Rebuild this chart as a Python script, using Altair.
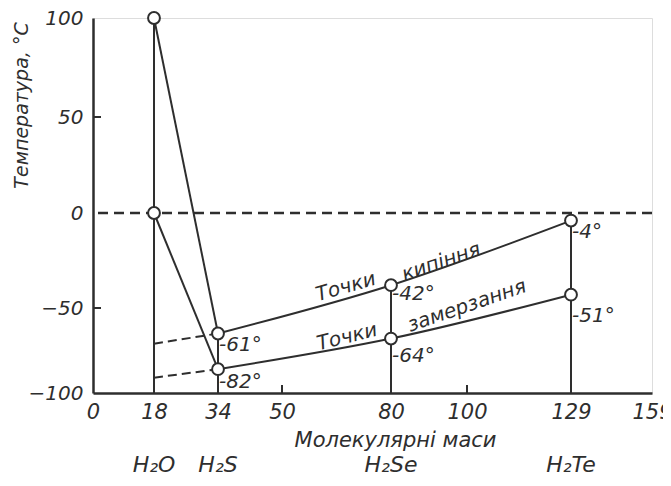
import altair as alt
import pandas as pd

# ---- data ----
masses = [18, 34, 80, 129]
compounds = ["H₂O", "H₂S", "H₂Se", "H₂Te"]
boiling = [100, -65, -38, -4]
freezing = [0, -86, -68, -43]
boil_labels = ["-61°", "-42°", "-4°"]
boil_label_y = [-72, -42.6, -10]
freeze_labels = ["-82°", "-64°", "-51°"]
freeze_label_y = [-93.5, -78, -54.7]
extrap_boil = [-71, -65]      # dashed extrapolation to x=18
extrap_freeze = [-91, -86]
curve_texts = ["Точки", "кипіння", "Точки", "замерзання"]
curve_text_x = [67.6, 93.2, 67.9, 100]
curve_text_y = [-38.9, -25.8, -67.1, -48.9]
curve_text_angle = [344, 341, 346, 341]
x_ticks = [0, 18, 34, 50, 80, 100, 129, 159]
y_ticks = [-100, -50, 0, 50, 100]

INK = "#2e2e2e"
FONT = "DejaVu Sans"

xs = alt.Scale(domain=x_ticks, range=[0, 61, 125, 189, 298, 374, 478, 559], clamp=False)
ys = alt.Scale(domain=y_ticks, range=[375, 290, 195, 99, 0], clamp=False)

xa = alt.Axis(values=x_ticks, ticks=False, labelFlush=False, labelOverlap=False, labelBound=False,
              labelFont=FONT, labelFontStyle="italic", labelFontSize=21, labelColor=INK, labelPadding=8,
              domainColor=INK, domainWidth=2.5, grid=False,
              title="Молекулярні маси", titleFont=FONT, titleFontStyle="italic", titleFontWeight="normal",
              titleFontSize=21, titleColor=INK, titleX=302, titleY=47, titleBaseline="middle", titleAlign="center")
ya = alt.Axis(values=y_ticks, ticks=False, labelFont=FONT, labelFontStyle="italic", labelFontSize=20,
              labelColor=INK, labelPadding=10, domainColor=INK, domainWidth=2.5, grid=False,
              title="Температура, °C", titleFont=FONT, titleFontStyle="italic", titleFontWeight="normal",
              titleFontSize=19, titleColor=INK, titleX=-72, titleY=87, titleBaseline="middle",
              titleAlign="center", titleAngle=270)

X = alt.X("x:Q", scale=xs, axis=xa)
Y = alt.Y("y:Q", scale=ys, axis=ya)

pts = pd.DataFrame({"x": masses * 2, "y": boiling + freezing})

zero = alt.Chart(pd.DataFrame({"y": [0]})).mark_rule(color=INK, strokeWidth=2.5, strokeDash=[10, 6]).encode(y=Y)

drops = alt.Chart(pd.DataFrame({"x": masses, "y": boiling, "y2": [-100] * 4})).mark_rule(
    color=INK, strokeWidth=2).encode(x=X, y=Y, y2="y2:Q")

steep = alt.Chart(pd.DataFrame({
    "x": [masses[0], masses[1], masses[0], masses[1]],
    "y": [boiling[0], boiling[1], freezing[0], freezing[1]],
    "g": ["b", "b", "f", "f"]})).mark_line(color=INK, strokeWidth=2).encode(x=X, y=Y, detail="g:N")

curves = alt.Chart(pd.DataFrame({
    "x": masses[1:] * 2, "y": boiling[1:] + freezing[1:], "g": ["b"] * 3 + ["f"] * 3})).mark_line(
    color=INK, strokeWidth=2, interpolate="monotone").encode(x=X, y=Y, detail="g:N")

extrap = alt.Chart(pd.DataFrame({
    "x": [18, 34, 18, 34], "y": extrap_boil + extrap_freeze, "g": ["b", "b", "f", "f"]})).mark_line(
    color=INK, strokeWidth=2, strokeDash=[9, 5]).encode(x=X, y=Y, detail="g:N")

xt = alt.Chart(pd.DataFrame({"x": [50, 100], "y": [-100, -100]})).mark_rule(
    color=INK, strokeWidth=2, y2Offset=-8).encode(x=X, y=Y, y2="y:Q")
yt = alt.Chart(pd.DataFrame({"x": [0, 0], "y": [50, -50]})).mark_rule(
    color=INK, strokeWidth=2, x2Offset=8).encode(x=X, y=Y, x2="x:Q")

circles = alt.Chart(pts).mark_point(shape="circle", size=140, filled=True, fill="white",
                                     stroke=INK, strokeWidth=2, opacity=1).encode(x=X, y=Y)

vlabels = alt.Chart(pd.DataFrame({
    "x": masses[1:] * 2, "y": boil_label_y + freeze_label_y, "t": boil_labels + freeze_labels})).mark_text(
    align="left", baseline="middle", dx=1, font=FONT, fontStyle="italic", fontSize=20, color=INK).encode(
    x=X, y=Y, text="t:N")

ctext = alt.Chart(pd.DataFrame({
    "x": curve_text_x, "y": curve_text_y, "t": curve_texts, "a": curve_text_angle})).mark_text(
    align="center", baseline="middle", font=FONT, fontStyle="italic", fontSize=20, color=INK).encode(
    x=X, y=Y, text="t:N", angle=alt.Angle("a:Q", scale=None))

comp = alt.Chart(pd.DataFrame({"x": masses, "y": [-100] * 4, "t": compounds})).mark_text(
    align="center", baseline="alphabetic", dy=79, font=FONT, fontStyle="italic", fontSize=22, color=INK).encode(
    x=X, y=Y, text="t:N")

chart = alt.layer(zero, drops, steep, curves, extrap, xt, yt, circles, vlabels, ctext, comp).properties(
    width=559, height=375, autosize=alt.AutoSizeParams(type="none"),
    padding={"left": 85, "top": 10, "right": 11, "bottom": 85}
).configure_view(stroke=INK, strokeWidth=2.5).configure(background="white")

chart.save("out.html", embed_options={"renderer": "svg", "actions": False})
